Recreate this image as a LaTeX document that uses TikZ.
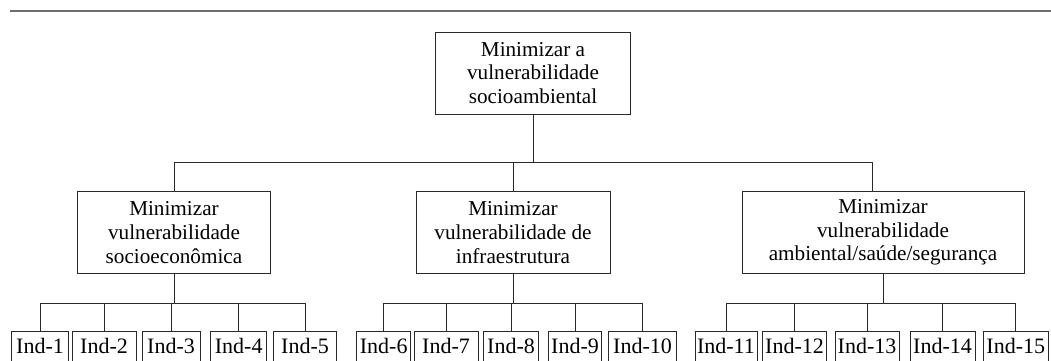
\documentclass[tikz,border=0pt]{standalone}
\usepackage{fontspec}
\setmainfont{Liberation Serif}
\usepackage{xcolor}
\definecolor{rule}{HTML}{6E6E6E}
\definecolor{ink}{HTML}{2A2A2A}

\begin{document}
\begin{tikzpicture}[
    x=0.5pt, y=-0.5pt,
    goal/.style={
        draw=ink,
        line width=0.5pt,
        minimum height=41pt,
        inner sep=0pt,
        font=\fontsize{10.6}{11.8}\selectfont,
        align=center,
    },
    ind/.style={
        draw=ink,
        line width=0.5pt,
        anchor=north,
        inner xsep=0pt,
        inner ysep=2.6pt,
        text height=8.2pt,
        text depth=8pt,
        font=\fontsize{11}{12}\selectfont,
    },
    link/.style={draw=ink, line width=0.5pt},
]
\useasboundingbox (0, 0) rectangle (1051, 360);
\clip (0, 0) rectangle (1051, 360);

\draw[rule, line width=1pt] (10, 10.5) -- (1051, 10.5);

\node[goal, minimum width=97.5pt] (root) at (533, 73) {Minimizar a\\vulnerabilidade\\socioambiental};

\node[goal, minimum width=96.7pt] (soc) at (174, 232.5) {Minimizar\\vulnerabilidade\\socioecon\^omica};
\node[goal, minimum width=97pt] (inf) at (513, 232.5) {Minimizar\\vulnerabilidade de\\infraestrutura};
\node[goal, minimum width=141pt] (amb) at (883, 232.5) {Minimizar\\vulnerabilidade\\ambiental/saúde/segurança};

\node[ind, minimum width=28.5pt] (I1) at (40, 331) {Ind-1};
\node[ind, minimum width=32pt] (I2) at (104, 331) {Ind-2};
\node[ind, minimum width=29pt] (I3) at (171, 331) {Ind-3};
\node[ind, minimum width=28pt] (I4) at (238.7, 331) {Ind-4};
\node[ind, minimum width=31.5pt] (I5) at (305, 331) {Ind-5};
\node[ind, minimum width=27pt] (I6) at (383.7, 331) {Ind-6};
\node[ind, minimum width=32pt] (I7) at (446, 331) {Ind-7};
\node[ind, minimum width=27.5pt] (I8) at (511, 331) {Ind-8};
\node[ind, minimum width=26.5pt] (I9) at (575, 331) {Ind-9};
\node[ind, minimum width=34pt] (I10) at (642.5, 331) {Ind-10};
\node[ind, minimum width=31pt] (I11) at (726, 331) {Ind-11};
\node[ind, minimum width=32pt] (I12) at (794.5, 331) {Ind-12};
\node[ind, minimum width=32pt] (I13) at (867, 331) {Ind-13};
\node[ind, minimum width=32.5pt] (I14) at (942.5, 331) {Ind-14};
\node[ind, minimum width=32.5pt] (I15) at (1015.8, 331) {Ind-15};

% top level
\draw[link] (root.south) -- ++(0, 48) -| (soc.north);
\draw[link] (root.south) -- ++(0, 48) -| (inf.north);
\draw[link] (root.south) -- ++(0, 48) -| ([xshift=-5.5pt]amb.north);

% indicators
\foreach \p/\a/\b in {soc/1/5, inf/6/10, amb/11/15} {
    \foreach \k in {\a,...,\b}
        \draw[link] (\p.south) -- ++(0, 29) -| (I\k.north);
}

\end{tikzpicture}
\end{document}
